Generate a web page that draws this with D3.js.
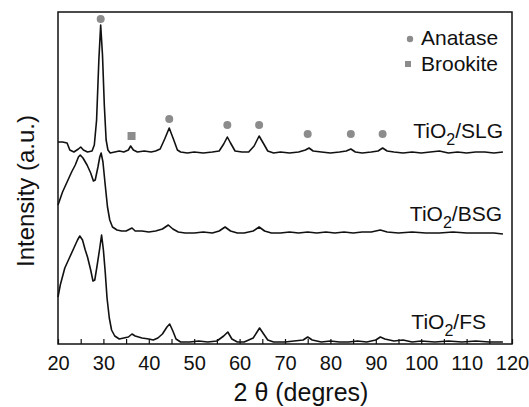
<!DOCTYPE html>
<html>
<head>
<meta charset="utf-8">
<script src="https://cdn.jsdelivr.net/npm/d3@7"></script>
<style>
  body { margin: 0; background: #fff; }
  svg text { font-family: "Liberation Sans", Arial, sans-serif; fill: #111; }
</style>
</head>
<body>
<div class="grafico"></div>
<script>
/*Datos: [2 theta, intensidad (u.a.)]*/
const slg = [
  [20,202],[21,202],[22,201],[22.6,194],[23.5,192],[24.5,195],[25,197],[25.6,194],[26.5,192],[27.5,193],
  [28,199],[28.5,224],[29,284],[29.4,319],[29.8,289],[30.2,239],[30.6,204],[31,194],[31.5,191],[32.5,192],
  [33.5,193],[34.5,192],[35.5,194],[36,198],[36.6,194],[37.5,192],[39,193],[40.5,192],[41.5,193],[42.5,195],
  [43.5,205],[44.5,216],[45.5,204],[46.3,194],[47,192],[48.5,191],[50,192],[52,191],[54,192],[55.5,193],
  [56.5,200],[57.3,207],[58,201],[59,193],[60.5,192],[62,192],[63.2,198],[64.3,208],[65.2,201],[66.2,193],
  [67.5,191],[69,192],[71,191],[73,192],[74.5,194],[75.3,196],[76.2,193],[78,192],[80,191],[82,192],
  [83.5,193],[84.5,195],[85.5,192],[87,191],[89,192],[90.5,193],[91.5,196],[92.5,193],[94,192],[96,191],
  [98,192],[100,191],[102,192],[104,193],[106,191],[108,192],[110,191],[112,192],[114,192],[116,191],[118,192]
];
const bsg = [
  [20,139],[21,152],[22,162],[23,172],[23.8,179],[24.5,187],[24.9,189],[25.5,186],[26.4,179],[27.2,171],
  [27.8,163],[28.2,164],[28.8,177],[29.2,187],[29.5,191],[29.9,182],[30.4,159],[30.9,137],[31.4,124],[32,117],
  [33,114],[34,113],[35,113],[36.3,116],[37,113],[38.5,113],[40,112],[41.5,113],[43,115],[44.3,119],
  [45.3,115],[46.5,112],[48,111],[50,111],[52,112],[54,111],[55.5,113],[56.8,117],[58,113],[59.5,111],
  [61,111],[63,113],[64.3,117],[65.5,113],[67,111],[69,111],[71,112],[73,111],[75,112],[77,111],
  [79,112],[81,111],[83,112],[85,111],[87,112],[89,112],[91,114],[92.5,112],[95,111],[98,112],
  [101,111],[104,111],[107,112],[110,111],[113,111],[116,111],[118,110]
];
const fs = [
  [20,47],[20.5,59],[21.5,76],[22.5,86],[23.5,96],[24.3,104],[24.8,108],[25.4,104],[26,94],[26.5,87],
  [27.2,74],[27.7,63],[28.1,64],[28.6,78],[29.2,96],[29.6,109],[30,94],[30.4,72],[30.8,46],[31.3,26],
  [31.8,14],[32.5,8],[33.5,5],[34.5,6],[35.5,7],[36.3,10],[37,8],[38.5,6],[40,5],[41,4],
  [42,6],[43,10],[44,17],[44.6,20],[45.3,13],[46,5],[47,2],[49,2],[51,3],[53,2],
  [55,3],[56.5,8],[57.4,12],[58.3,5],[59.5,2],[61,2],[63,6],[64.4,16],[65.3,10],[66.2,4],
  [67.5,2],[70,2],[72,3],[74,4],[75,7],[76,4],[78,2],[80,3],[82,2],[84,2],
  [86,3],[88,2],[90,4],[91,7],[92,5],[94,3],[96,4],[98,2],[100,3],[103,2],
  [106,3],[109,2],[112,3],[115,2],[118,2]
];
/*Marcadores de fase: [2 theta, posicion]*/
const anatase = [[29.4,325],[44.5,225],[57.3,219],[64.3,219],[75,210],[84.5,210],[91.5,210]];
const brookite = [[36.2,208]];
const xTicks = [20,30,40,50,60,70,80,90,100,110,120];
const minorTicks = d3.range(20, 121, 5);
const labels = ['SLG','BSG','FS'];

const w = 529; /*Ancho de canvas*/
const h = 407; /*Alto de canvas*/
const mLeft = 58, mRight = 512, mTop = 12, mBottom = 344;
const grey = '#8c8c8c';

/*Escalas*/
const xScale = d3.scaleLinear().domain([20, 120]).range([mLeft, mRight]);
const yScale = d3.scaleLinear().domain([0, 332]).range([mBottom, mTop]);

const svg = d3.select('.grafico')
  .append('svg')
  .attr('width', w)
  .attr('height', h);

/*Marco*/
svg.append('rect')
  .attr('x', mLeft).attr('y', mTop)
  .attr('width', mRight - mLeft).attr('height', mBottom - mTop)
  .attr('fill', 'none').attr('stroke', '#111').attr('stroke-width', 1.5);

/*Eje x con ticks hacia dentro*/
const xAxis = d3.axisBottom(xScale)
  .tickValues(minorTicks)
  .tickSizeInner(-5)
  .tickSizeOuter(0)
  .tickPadding(12)
  .tickFormat(d => xTicks.includes(d) ? d : '');

const gx = svg.append('g')
  .attr('transform', `translate(0,${mBottom})`)
  .call(xAxis);
gx.select('.domain').remove();
gx.selectAll('line').attr('stroke', '#111').attr('stroke-width', 1.2);
gx.selectAll('text')
  .style('font-size', '20px')
  .style('font-family', '"Liberation Sans", Arial, sans-serif')
  .attr('fill', '#111');

/*Curvas*/
const line = d3.line()
  .x(d => xScale(d[0]))
  .y(d => yScale(d[1]));

[slg, bsg, fs].forEach(s => {
  svg.append('path')
    .datum(s)
    .attr('d', line)
    .attr('fill', 'none')
    .attr('stroke', '#111')
    .attr('stroke-width', 1.6)
    .attr('stroke-linejoin', 'round');
});

/*Marcadores*/
svg.selectAll('.anatase')
  .data(anatase)
  .enter()
  .append('circle')
  .attr('cx', d => xScale(d[0]))
  .attr('cy', d => yScale(d[1]))
  .attr('r', 4)
  .attr('fill', grey);

svg.selectAll('.brookite')
  .data(brookite)
  .enter()
  .append('rect')
  .attr('x', d => xScale(d[0]) - 4)
  .attr('y', d => yScale(d[1]) - 4)
  .attr('width', 8)
  .attr('height', 8)
  .attr('fill', grey);

/*Leyenda*/
svg.append('circle').attr('cx', 410).attr('cy', 39).attr('r', 3.2).attr('fill', grey);
svg.append('rect').attr('x', 405).attr('y', 61).attr('width', 6).attr('height', 6).attr('fill', grey);
svg.append('text').attr('x', 421).attr('y', 45).style('font-size', '21px').text('Anatase');
svg.append('text').attr('x', 421).attr('y', 71).style('font-size', '21px').text('Brookite');

/*Etiquetas de muestras*/
const labelPos = [[503, 138], [502, 221], [486, 329]];
labels.forEach((l, i) => {
  const t = svg.append('text')
    .attr('x', labelPos[i][0])
    .attr('y', labelPos[i][1])
    .attr('text-anchor', 'end')
    .style('font-size', '21px');
  t.append('tspan').text('TiO');
  t.append('tspan').attr('dy', 7).style('font-size', '16px').text('2');
  t.append('tspan').attr('dy', -7).text('/' + l);
});

/*Titulos de ejes*/
svg.append('text')
  .attr('x', 301)
  .attr('y', 401)
  .attr('text-anchor', 'middle')
  .style('font-size', '25px')
  .text('2 θ (degres)');

svg.append('text')
  .attr('transform', 'translate(34,191) rotate(-90)')
  .attr('text-anchor', 'middle')
  .style('font-size', '24px')
  .text('Intensity (a.u.)');
</script>
</body>
</html>
